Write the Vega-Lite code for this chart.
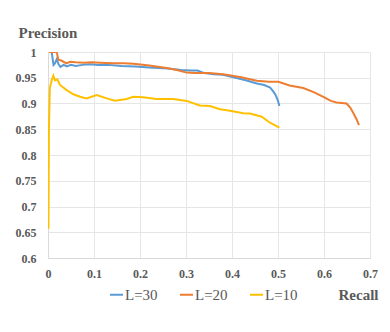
{
  "$schema": "https://vega.github.io/schema/vega-lite/v6.json",
  "width": 322,
  "height": 206,
  "autosize": {"type": "none"},
  "padding": {"left": 48, "top": 52, "right": 20, "bottom": 74},
  "background": "white",
  "config": {
    "view": {"stroke": null},
    "font": "serif"
  },
  "datasets": {
    "pts": [
      {"s": "L=30", "o": 0, "x": 0.002, "y": 1.0},
      {"s": "L=30", "o": 1, "x": 0.008, "y": 1.0},
      {"s": "L=30", "o": 2, "x": 0.012, "y": 0.975},
      {"s": "L=30", "o": 3, "x": 0.015, "y": 0.978},
      {"s": "L=30", "o": 4, "x": 0.019, "y": 0.986},
      {"s": "L=30", "o": 5, "x": 0.023, "y": 0.976},
      {"s": "L=30", "o": 6, "x": 0.027, "y": 0.971},
      {"s": "L=30", "o": 7, "x": 0.034, "y": 0.975},
      {"s": "L=30", "o": 8, "x": 0.041, "y": 0.972},
      {"s": "L=30", "o": 9, "x": 0.05, "y": 0.975},
      {"s": "L=30", "o": 10, "x": 0.06, "y": 0.973},
      {"s": "L=30", "o": 11, "x": 0.075, "y": 0.975},
      {"s": "L=30", "o": 12, "x": 0.09, "y": 0.976},
      {"s": "L=30", "o": 13, "x": 0.11, "y": 0.975},
      {"s": "L=30", "o": 14, "x": 0.13, "y": 0.975},
      {"s": "L=30", "o": 15, "x": 0.16, "y": 0.973},
      {"s": "L=30", "o": 16, "x": 0.19, "y": 0.972},
      {"s": "L=30", "o": 17, "x": 0.22, "y": 0.97},
      {"s": "L=30", "o": 18, "x": 0.26, "y": 0.968},
      {"s": "L=30", "o": 19, "x": 0.29, "y": 0.965},
      {"s": "L=30", "o": 20, "x": 0.31, "y": 0.964},
      {"s": "L=30", "o": 21, "x": 0.325, "y": 0.964},
      {"s": "L=30", "o": 22, "x": 0.34, "y": 0.959},
      {"s": "L=30", "o": 23, "x": 0.36, "y": 0.957},
      {"s": "L=30", "o": 24, "x": 0.38, "y": 0.956},
      {"s": "L=30", "o": 25, "x": 0.403, "y": 0.951},
      {"s": "L=30", "o": 26, "x": 0.43, "y": 0.945},
      {"s": "L=30", "o": 27, "x": 0.454, "y": 0.939},
      {"s": "L=30", "o": 28, "x": 0.47, "y": 0.936},
      {"s": "L=30", "o": 29, "x": 0.483, "y": 0.931},
      {"s": "L=30", "o": 30, "x": 0.49, "y": 0.923},
      {"s": "L=30", "o": 31, "x": 0.495, "y": 0.916},
      {"s": "L=30", "o": 32, "x": 0.5, "y": 0.905},
      {"s": "L=30", "o": 33, "x": 0.503, "y": 0.895},

      {"s": "L=20", "o": 0, "x": 0.002, "y": 1.0},
      {"s": "L=20", "o": 1, "x": 0.019, "y": 1.0},
      {"s": "L=20", "o": 2, "x": 0.0225, "y": 0.985},
      {"s": "L=20", "o": 3, "x": 0.03, "y": 0.983},
      {"s": "L=20", "o": 4, "x": 0.04, "y": 0.978},
      {"s": "L=20", "o": 5, "x": 0.048, "y": 0.981},
      {"s": "L=20", "o": 6, "x": 0.06, "y": 0.98},
      {"s": "L=20", "o": 7, "x": 0.077, "y": 0.979},
      {"s": "L=20", "o": 8, "x": 0.095, "y": 0.98},
      {"s": "L=20", "o": 9, "x": 0.113, "y": 0.979},
      {"s": "L=20", "o": 10, "x": 0.14, "y": 0.978},
      {"s": "L=20", "o": 11, "x": 0.165, "y": 0.978},
      {"s": "L=20", "o": 12, "x": 0.186, "y": 0.977},
      {"s": "L=20", "o": 13, "x": 0.22, "y": 0.974},
      {"s": "L=20", "o": 14, "x": 0.258, "y": 0.969},
      {"s": "L=20", "o": 15, "x": 0.28, "y": 0.965},
      {"s": "L=20", "o": 16, "x": 0.3015, "y": 0.96},
      {"s": "L=20", "o": 17, "x": 0.32, "y": 0.959},
      {"s": "L=20", "o": 18, "x": 0.35, "y": 0.959},
      {"s": "L=20", "o": 19, "x": 0.381, "y": 0.957},
      {"s": "L=20", "o": 20, "x": 0.42, "y": 0.951},
      {"s": "L=20", "o": 21, "x": 0.454, "y": 0.944},
      {"s": "L=20", "o": 22, "x": 0.48, "y": 0.942},
      {"s": "L=20", "o": 23, "x": 0.501, "y": 0.942},
      {"s": "L=20", "o": 24, "x": 0.525, "y": 0.935},
      {"s": "L=20", "o": 25, "x": 0.555, "y": 0.93},
      {"s": "L=20", "o": 26, "x": 0.58, "y": 0.921},
      {"s": "L=20", "o": 27, "x": 0.5985, "y": 0.913},
      {"s": "L=20", "o": 28, "x": 0.615, "y": 0.905},
      {"s": "L=20", "o": 29, "x": 0.6275, "y": 0.902},
      {"s": "L=20", "o": 30, "x": 0.649, "y": 0.9},
      {"s": "L=20", "o": 31, "x": 0.657, "y": 0.892},
      {"s": "L=20", "o": 32, "x": 0.664, "y": 0.881},
      {"s": "L=20", "o": 33, "x": 0.671, "y": 0.869},
      {"s": "L=20", "o": 34, "x": 0.676, "y": 0.858},

      {"s": "L=10", "o": 0, "x": 0.001, "y": 0.657},
      {"s": "L=10", "o": 1, "x": 0.002, "y": 0.85},
      {"s": "L=10", "o": 2, "x": 0.004, "y": 0.93},
      {"s": "L=10", "o": 3, "x": 0.008, "y": 0.945},
      {"s": "L=10", "o": 4, "x": 0.0116, "y": 0.954},
      {"s": "L=10", "o": 5, "x": 0.0152, "y": 0.945},
      {"s": "L=10", "o": 6, "x": 0.0203, "y": 0.947},
      {"s": "L=10", "o": 7, "x": 0.026, "y": 0.936},
      {"s": "L=10", "o": 8, "x": 0.0406, "y": 0.926},
      {"s": "L=10", "o": 9, "x": 0.055, "y": 0.918},
      {"s": "L=10", "o": 10, "x": 0.0696, "y": 0.913},
      {"s": "L=10", "o": 11, "x": 0.084, "y": 0.91},
      {"s": "L=10", "o": 12, "x": 0.1058, "y": 0.9165},
      {"s": "L=10", "o": 13, "x": 0.1276, "y": 0.91},
      {"s": "L=10", "o": 14, "x": 0.1457, "y": 0.9055},
      {"s": "L=10", "o": 15, "x": 0.171, "y": 0.9087},
      {"s": "L=10", "o": 16, "x": 0.1855, "y": 0.913},
      {"s": "L=10", "o": 17, "x": 0.207, "y": 0.912},
      {"s": "L=10", "o": 18, "x": 0.236, "y": 0.9087},
      {"s": "L=10", "o": 19, "x": 0.272, "y": 0.9087},
      {"s": "L=10", "o": 20, "x": 0.3015, "y": 0.905},
      {"s": "L=10", "o": 21, "x": 0.33, "y": 0.896},
      {"s": "L=10", "o": 22, "x": 0.352, "y": 0.895},
      {"s": "L=10", "o": 23, "x": 0.374, "y": 0.8887},
      {"s": "L=10", "o": 24, "x": 0.3957, "y": 0.886},
      {"s": "L=10", "o": 25, "x": 0.4246, "y": 0.881},
      {"s": "L=10", "o": 26, "x": 0.439, "y": 0.8805},
      {"s": "L=10", "o": 27, "x": 0.4645, "y": 0.8744},
      {"s": "L=10", "o": 28, "x": 0.4826, "y": 0.8627},
      {"s": "L=10", "o": 29, "x": 0.503, "y": 0.853}
    ]
  },
  "data": {"name": "pts"},
  "mark": {"type": "line", "strokeWidth": 2, "clip": true, "interpolate": "linear"},
  "encoding": {
    "x": {
      "field": "x", "type": "quantitative",
      "scale": {"domain": [0, 0.7], "nice": false, "zero": false},
      "axis": {
        "values": [0, 0.1, 0.2, 0.3, 0.4, 0.5, 0.6, 0.7],
        "format": "~g",
        "title": "Recall",
        "titleAngle": 0, "titleX": 310, "titleY": 36, "titleAlign": "center", "titleBaseline": "middle",
        "titleFont": "serif", "titleFontSize": 15, "titleFontWeight": "bold", "titleColor": "#595959",
        "labelFont": "serif", "labelFontSize": 12, "labelFontWeight": "bold", "labelColor": "#595959",
        "labelPadding": 10, "labelBaseline": "top", "labelFlush": false,
        "ticks": false, "domainColor": "#d9d9d9", "gridColor": "#e6e6e6", "grid": true
      }
    },
    "y": {
      "field": "y", "type": "quantitative",
      "scale": {"domain": [0.6, 1], "nice": false, "zero": false},
      "axis": {
        "values": [0.6, 0.65, 0.7, 0.75, 0.8, 0.85, 0.9, 0.95, 1],
        "format": "~g",
        "title": "Precision",
        "titleAngle": 0, "titleX": -30, "titleY": -20, "titleAlign": "left", "titleBaseline": "middle",
        "titleFont": "serif", "titleFontSize": 15, "titleFontWeight": "bold", "titleColor": "#595959",
        "labelFont": "serif", "labelFontSize": 12, "labelFontWeight": "bold", "labelColor": "#595959",
        "labelPadding": 12, "labelFlush": false,
        "ticks": false, "domainColor": "#d9d9d9", "gridColor": "#e6e6e6", "grid": true
      }
    },
    "color": {
      "field": "s", "type": "nominal",
      "scale": {"domain": ["L=30", "L=20", "L=10"], "range": ["#5B9BD5", "#ED7D31", "#FFC000"]},
      "legend": {
        "title": null, "orient": "none", "direction": "horizontal",
        "legendX": 61, "legendY": 235,
        "symbolType": "stroke", "symbolSize": 169, "symbolStrokeWidth": 2,
        "labelFont": "serif", "labelFontSize": 15, "labelColor": "#595959",
        "labelOffset": 1, "columnPadding": 18
      }
    },
    "order": {"field": "o", "type": "quantitative"}
  }
}
